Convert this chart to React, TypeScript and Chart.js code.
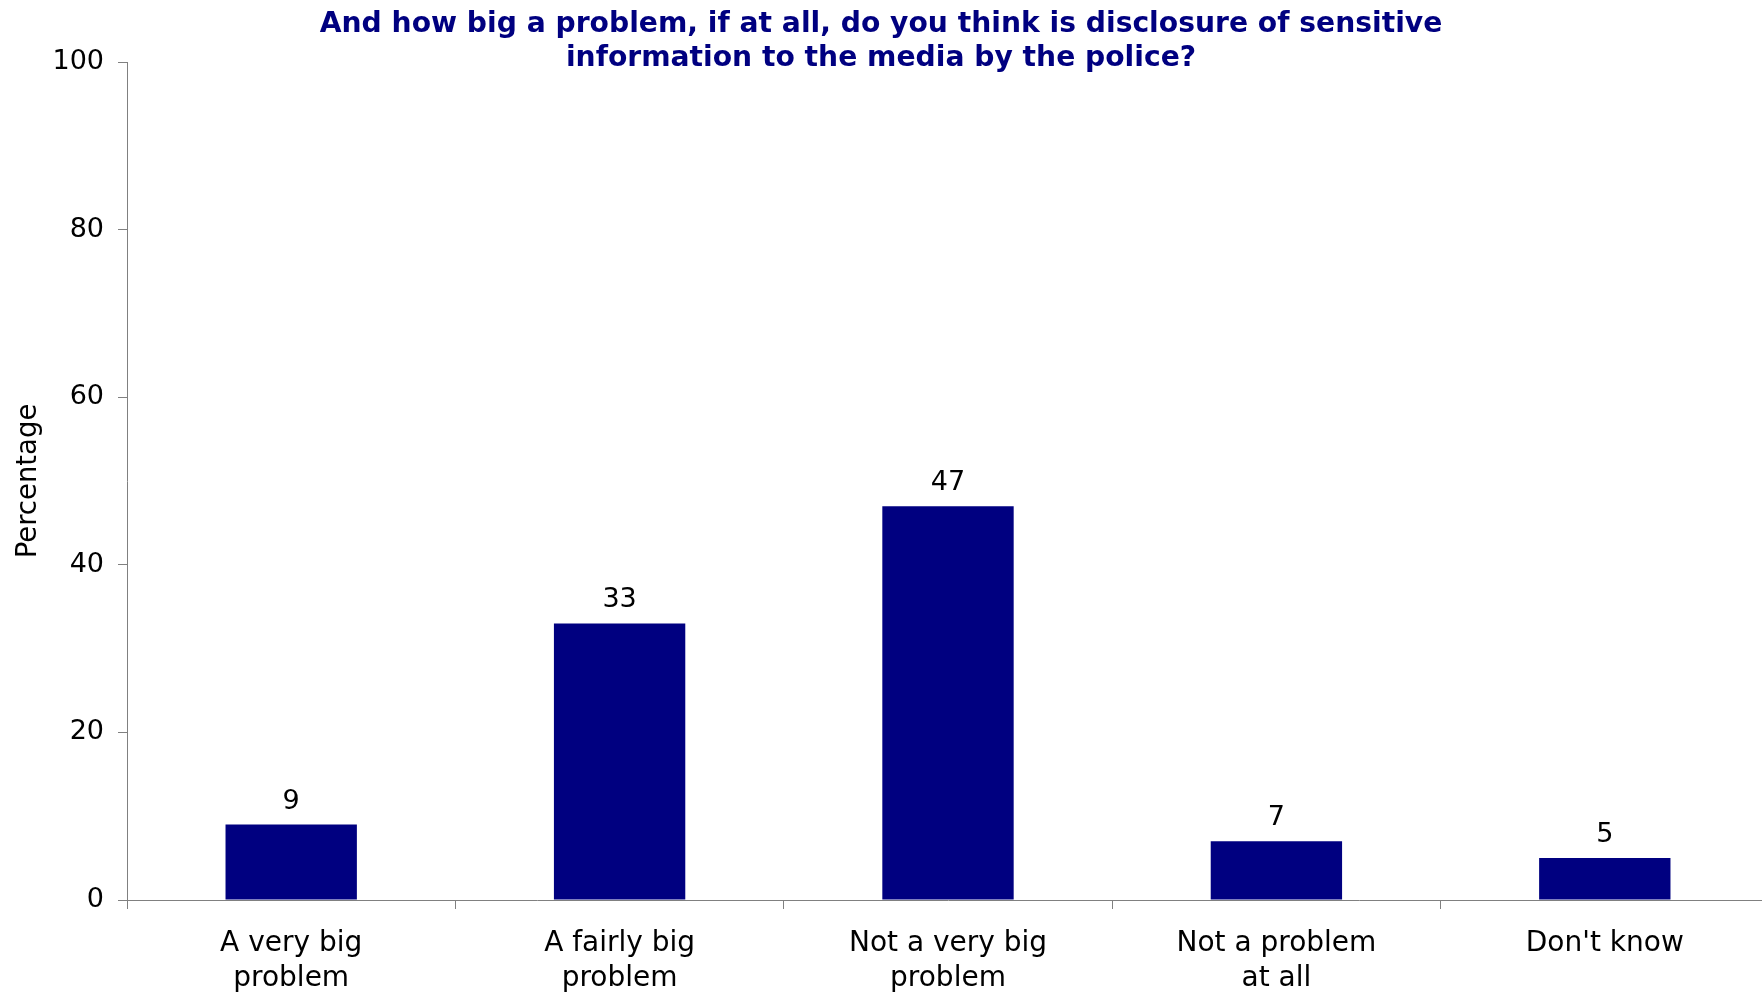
import React, { useEffect, useRef } from "react";
import { Chart, registerables } from "chart.js";

Chart.register(...registerables);

const categories: string[][] = [
  ["A very big", "problem"],
  ["A fairly big", "problem"],
  ["Not a very big", "problem"],
  ["Not a problem", "at all"],
  ["Don't know"],
];
const values: number[] = [9, 33, 47, 7, 5];
const yMin = 0;
const yMax = 100;
const yStep = 20;
const titleLines: string[] = [
  "And how big a problem, if at all, do you think is disclosure of sensitive",
  "information to the media by the police?",
];
const yAxisTitle = "Percentage";

const FONT = "'DejaVu Sans', Verdana, sans-serif";
const VIEW_W = 1762;

const overlayPlugin = {
  id: "overlay",
  afterDatasetsDraw(chart: any) {
    const ctx = chart.ctx as CanvasRenderingContext2D;
    const meta = chart.getDatasetMeta(0);
    ctx.save();
    ctx.font = `27px ${FONT}`;
    ctx.fillStyle = "#000000";
    ctx.textAlign = "center";
    ctx.textBaseline = "middle";
    meta.data.forEach((bar: any, i: number) => {
      ctx.fillText(String(values[i]), bar.x, bar.y - 23);
    });
    ctx.font = `bold 28.2px ${FONT}`;
    ctx.fillStyle = "#000080";
    titleLines.forEach((line, i) => {
      ctx.fillText(line, VIEW_W / 2, 25 + i * 34);
    });
    ctx.restore();
  },
};

export default function App() {
  const ref = useRef<HTMLCanvasElement>(null);

  useEffect(() => {
    if (!ref.current) return;
    const chart = new Chart(ref.current, {
      type: "bar",
      data: {
        labels: categories,
        datasets: [
          {
            data: values,
            backgroundColor: "#000080",
            borderWidth: 0,
            categoryPercentage: 1,
            barPercentage: 0.4,
          },
        ],
      },
      options: {
        responsive: false,
        animation: false,
        layout: { padding: { top: 62, left: 0, right: 0, bottom: 0 } },
        plugins: {
          legend: { display: false },
          tooltip: { enabled: false },
          title: { display: false },
        },
        scales: {
          x: {
            offset: true,
            grid: {
              offset: true,
              drawOnChartArea: false,
              drawTicks: true,
              tickLength: 9,
              color: "#808080",
            },
            border: { display: true, color: "#808080", width: 1 },
            ticks: {
              color: "#000000",
              font: { family: FONT, size: 28, lineHeight: 1.25 },
              padding: 17,
              maxRotation: 0,
              autoSkip: false,
            },
            afterFit: (scale: any) => {
              scale.height = 95;
            },
          },
          y: {
            min: yMin,
            max: yMax,
            grid: {
              drawOnChartArea: false,
              drawTicks: true,
              tickLength: 9,
              color: "#808080",
            },
            border: { display: true, color: "#808080", width: 1 },
            ticks: {
              stepSize: yStep,
              color: "#000000",
              font: { family: FONT, size: 27 },
              padding: 14,
            },
            title: {
              display: true,
              text: yAxisTitle,
              color: "#000000",
              font: { family: FONT, size: 27.5 },
              padding: { top: 12, bottom: 0 },
            },
            afterFit: (scale: any) => {
              scale.width = 127;
            },
          },
        },
      },
      plugins: [overlayPlugin],
    });
    return () => chart.destroy();
  }, []);

  return (
    <div style={{ position: "fixed", left: 0, top: 0, width: VIEW_W, height: 995, background: "#fff", overflow: "hidden" }}>
      <canvas ref={ref} width={1769} height={995} style={{ display: "block" }} />
    </div>
  );
}
